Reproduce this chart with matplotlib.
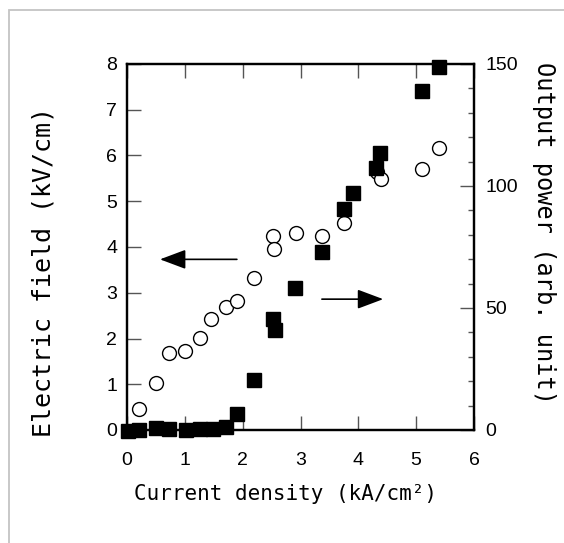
#!/usr/bin/env python3

import matplotlib

matplotlib.use("Agg")
import matplotlib.pyplot as plt
from matplotlib.patches import Rectangle
from matplotlib.ticker import MultipleLocator

# ============================================================================#
# data
# open circles: electric field (left axis)
current_field = [0.20, 0.51, 0.73, 1.01, 1.26, 1.45, 1.71, 1.91, 2.19, 2.52,
                 2.55, 2.92, 3.38, 3.76, 4.32, 4.39, 5.10, 5.39]
field = [0.46, 1.03, 1.68, 1.73, 2.02, 2.42, 2.68, 2.82, 3.32, 4.23,
         3.95, 4.31, 4.23, 4.52, 5.63, 5.48, 5.70, 6.17]

# filled squares: output power (right axis)
current_power = [0.02, 0.20, 0.51, 0.73, 1.02, 1.26, 1.49, 1.72, 1.91, 2.20,
                 2.53, 2.56, 2.90, 3.38, 3.76, 3.90, 4.30, 4.38, 5.10, 5.39]
power = [-0.5, 0.0, 0.8, 0.3, 0.0, 0.5, 0.5, 1.4, 6.6, 20.5,
         45.4, 41.0, 58.2, 73.0, 90.4, 97.0, 107.5, 113.6, 139.0, 148.9]

x_ticks = [0, 1, 2, 3, 4, 5, 6]
field_ticks = [0, 1, 2, 3, 4, 5, 6, 7, 8]
power_ticks = [0, 50, 100, 150]

xlabel = "Current density (kA/cm²)"
ylabel_left = "Electric field (kV/cm)"
ylabel_right = "Output power (arb. unit)"

# ============================================================================#
tick_font = ["Liberation Sans Narrow", "Liberation Sans", "DejaVu Sans"]
label_font = ["DejaVu Sans Mono", "DejaVu Sans"]

fig = plt.figure(figsize=(5.64, 5.43), dpi=100)
ax = fig.add_axes([127 / 564, 1 - 430 / 543, 347 / 564, 366 / 543])
ax2 = ax.twinx()

# outer grey frame (only top/left edges visible in the crop)
fig.add_artist(
    Rectangle(
        (9 / 564, -0.5), 2.0, 0.5 + 1 - 10 / 543,
        transform=fig.transFigure, fill=False, edgecolor="#c4c4c4", lw=1.3,
    )
)

ax.plot(current_field, field, linestyle="none", marker="o", markersize=10,
        markerfacecolor="white", markeredgecolor="black", markeredgewidth=1.0,
        clip_on=False, zorder=3)
ax2.plot(current_power, power, linestyle="none", marker="s", markersize=10,
         color="black", clip_on=False, zorder=3)

ax.set_xlim(0, 6)
ax.set_ylim(0, 8)
ax2.set_ylim(0, 150)

ax.set_xticks(x_ticks)
ax.set_yticks(field_ticks)
ax2.set_yticks(power_ticks)
ax2.yaxis.set_minor_locator(MultipleLocator(10))

ax.tick_params(axis="x", direction="in", top=True, length=10, width=1,
               color="#555555", pad=16, labelsize=14)
ax.tick_params(axis="y", direction="in", left=True, right=False, length=10,
               width=1, color="#555555", pad=7, labelsize=14)
ax2.tick_params(axis="y", which="major", direction="in", length=10, width=1,
                color="#555555", pad=8, labelsize=14)
ax2.tick_params(axis="y", which="minor", direction="in", length=4.5, width=1,
                color="#555555")

for a in (ax, ax2):
    for lbl in a.get_xticklabels() + a.get_yticklabels():
        lbl.set_fontfamily(tick_font)
    for sp in a.spines.values():
        sp.set_linewidth(1.6)

ax.set_xlabel(xlabel, fontfamily=label_font, fontsize=15, va="center")
ax.xaxis.set_label_coords(0.457, -0.175)
ax.set_ylabel(ylabel_left, fontfamily=label_font, fontsize=18, va="center")
ax.yaxis.set_label_coords(-0.242, 0.433)
ax2.set_ylabel(ylabel_right, fontfamily=label_font, fontsize=17, va="center",
               rotation=270)
ax2.yaxis.set_label_coords(1.202, 0.538)

# arrows pointing to the respective axes
arrow_kw = dict(arrowstyle="-|>,head_length=1.6,head_width=0.6",
                mutation_scale=10, lw=1.2, color="black", shrinkA=0, shrinkB=0)
ax.annotate("", xy=(0.57, 3.73), xytext=(1.90, 3.73), arrowprops=arrow_kw)
ax.annotate("", xy=(4.43, 2.86), xytext=(3.37, 2.86), arrowprops=arrow_kw)

fig.savefig("out.png", dpi=100)
